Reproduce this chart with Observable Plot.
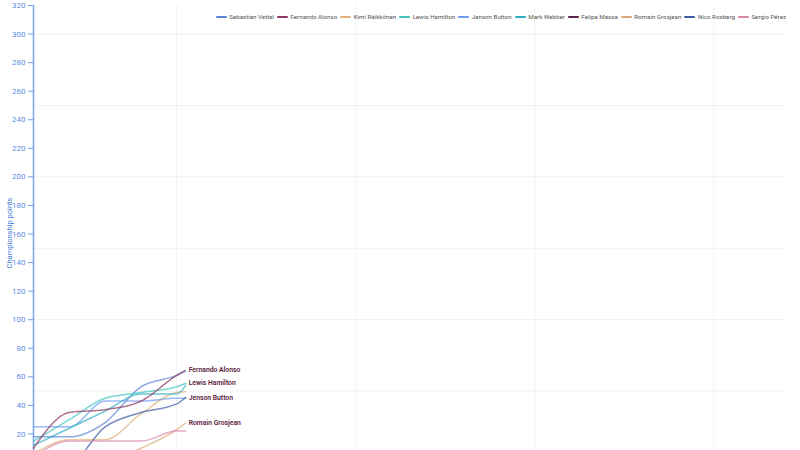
<!DOCTYPE html>
<html>
<head>
<meta charset="utf-8">
<script src="https://cdn.jsdelivr.net/npm/d3@7"></script>
<script src="https://cdn.jsdelivr.net/npm/@observablehq/plot@0.6"></script>
<style>
  html, body { margin: 0; padding: 0; background: #fff; overflow: hidden; }
  body { font-family: Roboto, "Noto Sans", sans-serif; }
  #wrap { position: relative; width: 800px; height: 450px; overflow: hidden; }
  #legend { position: absolute; top: 13px; right: 14px; display: flex; gap: 3px; font-size: 6.2px; color: #555; white-space: nowrap; }
  #legend .item { display: flex; align-items: center; gap: 2.5px; }
  #legend .sw { width: 11px; height: 2.5px; border-radius: 1px; }
  #ylabel { position: absolute; left: 9px; top: 233px; transform: translate(-50%, -50%) rotate(-90deg); font-size: 7.5px; color: #4a80dc; white-space: nowrap; }
</style>
</head>
<body>
<div id="wrap">
  <div id="chart"></div>
  <div id="legend"></div>
  <div id="ylabel">Championship points</div>
</div>
<script>
// Rounds (the last one is where the lines stop in the picture)
const rounds = [1, 2, 3, 4, 5, 5.25];

const drivers = ["Sebastian Vettel", "Fernando Alonso", "Kimi Räikkönen", "Lewis Hamilton", "Jenson Button",
                 "Mark Webber", "Felipe Massa", "Romain Grosjean", "Nico Rosberg", "Sergio Pérez"];

const vettel    = [18, 18, 28, 53, 61, 64];
const alonso    = [10, 35, 37, 43, 61, 64.7];
const raikkonen = [6, 16, 16, 34, 49, 49.5];
const hamilton  = [15, 30, 45, 49, 53, 55.5];
const button    = [25, 25, 43, 43, 45, 45];
const webber    = [12, 24, 36, 48, 48, 54];
const massa     = [0, 0, 0, 2, 2, 4];
const grosjean  = [0, 0, 0, 10, 23, 27.7];
const rosberg   = [0, 0, 25, 35, 41, 45.5];
const perez     = [4, 15, 15, 15, 22, 22];

const series = [vettel, alonso, raikkonen, hamilton, button, webber, massa, grosjean, rosberg, perez];

const labelled = ["Fernando Alonso", "Lewis Hamilton", "Jenson Button", "Romain Grosjean"];

const yTicks = d3.range(20, 321, 20);
const yGrid = [50, 100, 150, 200, 250, 300];
const xGrid = [5, 10, 15, 20];

const colors = ["#5b84d6", "#8e3b63", "#e2b07a", "#3fc6c0", "#6d9cf0",
                "#2eaec4", "#5c2450", "#d9a878", "#3b5ba5", "#d886a6"];

const data = drivers.flatMap((d, i) => rounds.map((r, j) => ({driver: d, round: r, points: series[i][j]})));
const ends = drivers.map((d, i) => ({driver: d, round: rounds[rounds.length - 1], points: series[i][series[i].length - 1]}))
                    .filter(d => labelled.includes(d.driver));

const chart = Plot.plot({
  width: 800,
  height: 492,
  marginTop: 5,
  marginLeft: 33,
  marginRight: 15,
  marginBottom: 30,
  style: {fontFamily: "Roboto, sans-serif", background: "#fff"},
  x: {domain: [1, 22], axis: null},
  y: {domain: [0, 320], axis: null},
  color: {domain: drivers, range: colors},
  marks: [
    Plot.ruleX(xGrid, {stroke: "#000", strokeOpacity: 0.06}),
    Plot.ruleY(yGrid, {stroke: "#000", strokeOpacity: 0.06}),
    Plot.axisY(yTicks, {anchor: "left", tickSize: 5, tickPadding: 3, stroke: "#6f9cf0", fill: "#5b8de6", fontSize: 8, label: null}),
    Plot.ruleX([1], {stroke: "#7aa5f0", strokeWidth: 1.5}),
    Plot.line(data.filter(d => d.driver !== "Fernando Alonso"), {x: "round", y: "points", z: "driver", stroke: "driver", curve: "monotone-x", strokeWidth: 1.5, strokeOpacity: 0.7}),
    Plot.line(data.filter(d => d.driver === "Fernando Alonso"), {x: "round", y: "points", stroke: "driver", curve: "monotone-x", strokeWidth: 1.5, strokeOpacity: 0.75, strokeDasharray: "2,1.2"}),
    Plot.text(ends, {x: "round", y: "points", text: "driver", dx: 3, textAnchor: "start", fill: "#5a1a3e", fontWeight: 600, fontSize: 6.8})
  ]
});
document.getElementById("chart").appendChild(chart);

const legend = document.getElementById("legend");
drivers.forEach((d, i) => {
  const item = document.createElement("div");
  item.className = "item";
  const sw = document.createElement("span");
  sw.className = "sw";
  sw.style.background = colors[i];
  const t = document.createElement("span");
  t.textContent = d;
  item.appendChild(sw);
  item.appendChild(t);
  legend.appendChild(item);
});
</script>
</body>
</html>
